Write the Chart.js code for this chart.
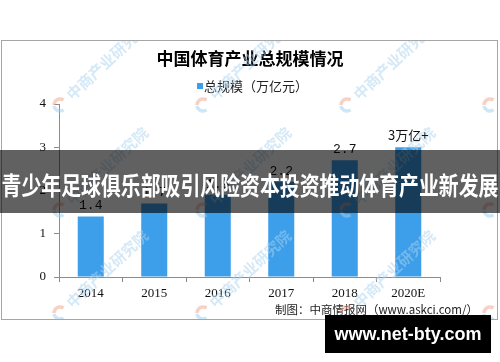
<!DOCTYPE html>
<html>
<head>
<meta charset="utf-8">
<title>中国体育产业总规模情况</title>
<script src="https://cdn.jsdelivr.net/npm/chart.js@4/dist/chart.umd.min.js"></script>
<style>
  html, body { margin: 0; padding: 0; background: #fff; }
  #wrap { width: 500px; height: 362px; position: relative; }
</style>
</head>
<body>
<div id="wrap"><canvas id="size-chart" width="500" height="362"></canvas></div>
<script>
'use strict';

// ── Data ──────────────────────────────────────────────────────
const years       = ['2014', '2015', '2016', '2017', '2018', '2020E'];
const scaleValues = [1.4, 1.7, 1.9, 2.2, 2.7, 3.0];
const valueLabels = ['1.4', '1.7', '1.9', '2.2', '2.7', '3万亿+'];
const yTicks      = [0, 1, 2, 3, 4];

const chartTitle  = '中国体育产业总规模情况';
const seriesName  = '总规模（万亿元）';
const sourceNote  = '制图：中商情报网（www.askci.com/）';
const bannerText  = '青少年足球俱乐部吸引风险资本投资推动体育产业新发展';
const siteText    = 'www.net-bty.com';
const watermark   = '中商产业研究院';

const BAR_BLUE = '#3d9eea';
const AXIS_GREY = '#8c8c8c';
const CJK = '"Noto Sans CJK SC", "Noto Sans", sans-serif';

// ── Frame, title, legend (drawn behind the chart) ─────────────
const framePlugin = {
  id: 'frame',
  beforeDraw(chart) {
    const ctx = chart.ctx;
    ctx.save();
    ctx.fillStyle = '#fff';
    ctx.fillRect(0, 0, chart.width, chart.height);
    ctx.strokeStyle = '#a6a6a6';
    ctx.lineWidth = 1;
    ctx.strokeRect(1.5, 40.5, 496, 279);

    ctx.fillStyle = '#000';
    ctx.textAlign = 'center';
    ctx.textBaseline = 'middle';
    ctx.font = 'bold 17px ' + CJK;
    ctx.fillText(chartTitle, 250, 59);

    ctx.fillStyle = BAR_BLUE;
    ctx.fillRect(197, 83, 6, 6);
    ctx.fillStyle = '#222';
    ctx.textAlign = 'left';
    ctx.font = '13px ' + CJK;
    ctx.fillText(seriesName, 204, 86);

    ctx.textAlign = 'right';
    ctx.font = '11.5px ' + CJK;
    ctx.fillText(sourceNote, 478, 310);
    ctx.restore();
  },
};

// ── Watermark + value labels (after bars) ─────────────────────
function drawWatermark(ctx, x, y) {
  ctx.save();
  ctx.translate(x, y);
  ctx.globalAlpha = 0.5;
  ctx.lineWidth = 3.5;
  ctx.strokeStyle = '#9fcdee';
  ctx.beginPath();
  ctx.arc(0, 0, 6, Math.PI * 0.3, Math.PI * 0.95);
  ctx.stroke();
  ctx.strokeStyle = '#f4a38a';
  ctx.beginPath();
  ctx.arc(0, 0, 6, Math.PI * 1.0, Math.PI * 1.7);
  ctx.stroke();
  ctx.rotate(-43 * Math.PI / 180);
  ctx.fillStyle = '#a9d3f0';
  ctx.font = 'bold 15px ' + CJK;
  ctx.textAlign = 'left';
  ctx.textBaseline = 'middle';
  ctx.fillText(watermark, 12, 0);
  ctx.restore();
}

const labelPlugin = {
  id: 'valueLabels',
  afterDatasetsDraw(chart) {
    const ctx = chart.ctx;
    ctx.save();
    ctx.beginPath();
    ctx.rect(2, 41, 495, 278);
    ctx.clip();
    [105, 210, 313].forEach(wy => {
      [60, 203, 347, 490].forEach(wx => drawWatermark(ctx, wx, wy));
    });
    ctx.restore();

    const meta = chart.getDatasetMeta(0);
    ctx.save();
    ctx.fillStyle = '#111';
    ctx.textAlign = 'center';
    ctx.textBaseline = 'alphabetic';
    meta.data.forEach((bar, i) => {
      const txt = valueLabels[i];
      ctx.font = /[^\x00-\x7f]/.test(txt) ? '13px ' + CJK : '13px "Liberation Mono", monospace';
      ctx.fillText(txt, bar.x, bar.y - 7);
    });
    ctx.restore();
  },
};

// ── Banner and site badge (on top of everything) ──────────────
const overlayPlugin = {
  id: 'overlay',
  afterDraw(chart) {
    const ctx = chart.ctx;
    ctx.save();
    ctx.fillStyle = 'rgba(0,0,0,0.62)';
    ctx.fillRect(0, 150, 500, 63);
    ctx.fillStyle = '#fff';
    ctx.textAlign = 'center';
    ctx.textBaseline = 'middle';
    ctx.font = 'bold 25px ' + CJK;
    ctx.fillText(bannerText, 250, 185, 497);

    ctx.fillStyle = '#000';
    ctx.fillRect(325, 315, 166, 38);
    ctx.fillStyle = '#fff';
    ctx.font = 'bold 18px "Liberation Sans", Arial, sans-serif';
    ctx.fillText(siteText, 408, 335);
    ctx.restore();
  },
};

// ── Chart ─────────────────────────────────────────────────────
new Chart(document.getElementById('size-chart'), {
  type: 'bar',
  data: {
    labels: years,
    datasets: [{
      label: seriesName,
      data: scaleValues,
      backgroundColor: BAR_BLUE,
      borderWidth: 0,
      categoryPercentage: 1,
      barPercentage: 0.41,
    }],
  },
  options: {
    responsive: false,
    animation: false,
    events: [],
    layout: { padding: { left: 0, right: 60, top: 104, bottom: 0 } },
    plugins: {
      legend: { display: false },
      title: { display: false },
      tooltip: { enabled: false },
    },
    scales: {
      x: {
        afterFit(scale) { scale.height = 85; },
        grid: { drawOnChartArea: false, color: AXIS_GREY, tickLength: 5, offset: true },
        border: { color: AXIS_GREY },
        ticks: { color: '#111', padding: 4, font: { family: '"Liberation Serif", serif', size: 13 } },
      },
      y: {
        min: yTicks[0],
        max: yTicks[yTicks.length - 1],
        afterFit(scale) { scale.width = 59; },
        afterBuildTicks(scale) { scale.ticks = yTicks.map(v => ({ value: v })); },
        grid: { drawOnChartArea: false, color: AXIS_GREY, tickLength: 5 },
        border: { color: AXIS_GREY },
        ticks: { color: '#111', padding: 8, font: { family: '"Liberation Serif", serif', size: 13 } },
      },
    },
  },
  plugins: [framePlugin, labelPlugin, overlayPlugin],
});
</script>
</body>
</html>
